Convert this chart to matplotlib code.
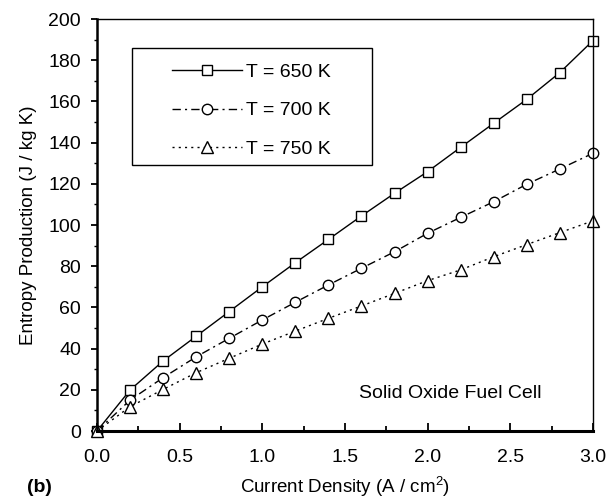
import matplotlib.pyplot as plt
from matplotlib.patches import Rectangle
from matplotlib.ticker import MultipleLocator

plt.rcParams['font.family'] = ['Liberation Sans', 'DejaVu Sans']
plt.rcParams['mathtext.fontset'] = 'custom'
plt.rcParams['mathtext.rm'] = 'Liberation Sans'

# current density (A/cm2) and entropy production (J/kg K)
current = [0.0, 0.2, 0.4, 0.6, 0.8, 1.0, 1.2, 1.4, 1.6, 1.8, 2.0, 2.2, 2.4, 2.6, 2.8, 3.0]
s_650 = [0.0, 19.9, 34.0, 46.0, 58.0, 70.0, 81.7, 93.0, 104.4, 115.4, 125.9, 137.7, 149.4, 161.0, 174.0, 189.5]
s_700 = [0.0, 15.0, 25.9, 36.0, 45.0, 53.9, 62.5, 70.9, 79.0, 87.0, 96.0, 103.7, 111.3, 119.8, 127.2, 134.8]
s_750 = [0.0, 11.8, 20.2, 28.3, 35.3, 42.2, 48.5, 54.7, 60.7, 66.8, 73.0, 78.2, 84.6, 90.5, 96.3, 102.0]
labels = ['T = 650 K', 'T = 700 K', 'T = 750 K']

fig = plt.figure(figsize=(6.16, 5.0), dpi=100)
ax = fig.add_axes([0.1575, 0.138, 0.805, 0.824])

mk = dict(color='black', lw=1.0, markerfacecolor='white',
          markeredgecolor='black', markeredgewidth=1.0, clip_on=False)
ax.plot(current, s_650, '-', marker='s', ms=7.5, label=labels[0], **mk)
ax.plot(current, s_700, ls=(0, (6, 3, 1.5, 3)), marker='o', ms=7.5, label=labels[1], **mk)
ax.plot(current, s_750, ls=(0, (1.5, 3)), marker='^', ms=9, label=labels[2], **mk)

ax.set_xlim(0, 3.0)
ax.set_ylim(0, 200)
ax.xaxis.set_major_locator(MultipleLocator(0.5))
ax.xaxis.set_minor_locator(MultipleLocator(0.25))
ax.yaxis.set_major_locator(MultipleLocator(20))
ax.yaxis.set_minor_locator(MultipleLocator(10))
ax.xaxis.set_major_formatter(plt.FormatStrFormatter('%.1f'))

ax.tick_params(axis='x', which='both', direction='in', labelsize=14, pad=13)
ax.tick_params(axis='x', which='major', length=6, width=1.3)
ax.tick_params(axis='x', which='minor', length=3.5, width=1.3)
ax.tick_params(axis='y', which='both', direction='out', labelsize=14, pad=7.5)
ax.tick_params(axis='y', which='major', length=4, width=1.3)
ax.tick_params(axis='y', which='minor', length=2.5, width=1.0)

ax.spines['bottom'].set_linewidth(2.2)
ax.spines['left'].set_linewidth(1.8)
ax.spines['top'].set_linewidth(1.0)
ax.spines['right'].set_linewidth(1.0)

ax.set_xlabel('Current Density (A / cm$^2$)', fontsize=13.5, labelpad=6)
ax.set_ylabel('Entropy Production (J / kg K)', fontsize=13.5, labelpad=8)

# legend box drawn separately so the wide side padding can be set
ax.add_patch(Rectangle((0.0706, 0.6456), 0.4834, 0.284, transform=ax.transAxes,
                       fill=False, edgecolor='black', lw=1.0, zorder=4))
leg = ax.legend(loc='upper left', bbox_to_anchor=(0.151, 0.893), borderaxespad=0,
                borderpad=0, fontsize=14, handlelength=3.6, handletextpad=0.2,
                labelspacing=1.08, frameon=False, numpoints=1)

ax.text(0.712, 0.092, 'Solid Oxide Fuel Cell', transform=ax.transAxes,
        fontsize=14, ha='center', va='center')
fig.text(0.044, 0.026, '(b)', fontsize=14, fontweight='bold', ha='left', va='center')

fig.savefig('out.png', dpi=100)
